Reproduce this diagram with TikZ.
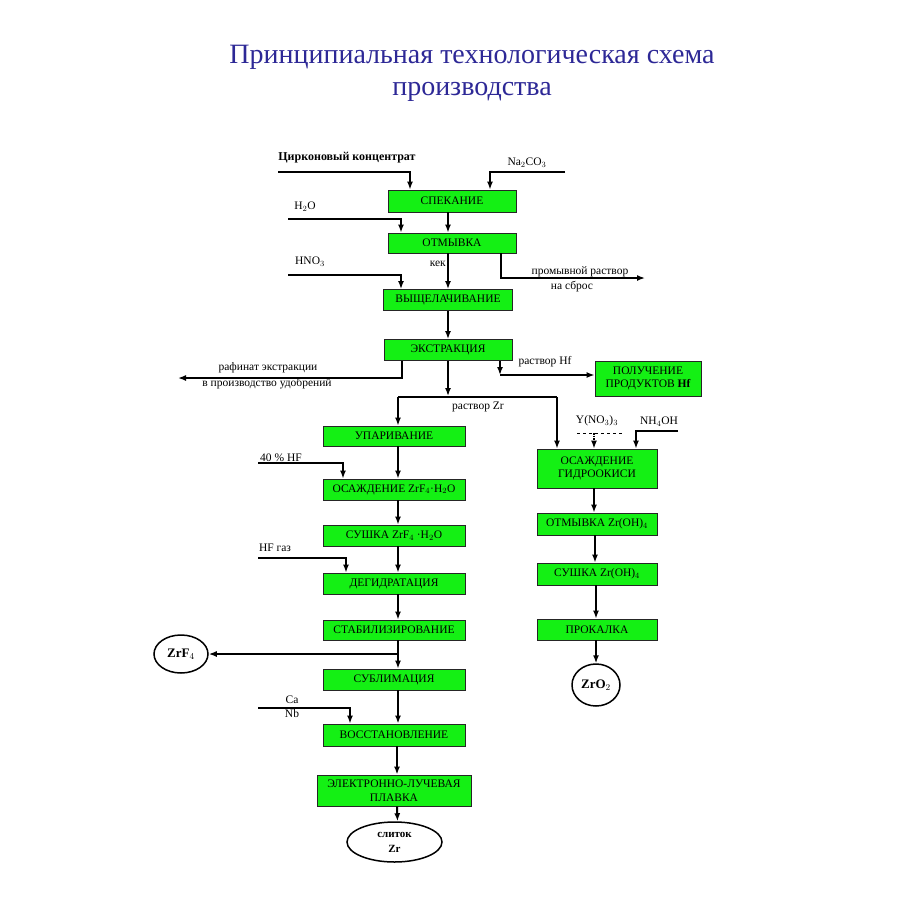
\documentclass[tikz,border=0pt]{standalone}
\usepackage{fontspec}
\setmainfont{Liberation Serif}
\usetikzlibrary{arrows.meta,calc,shapes.geometric}
\definecolor{boxgreen}{RGB}{20,240,20}
\definecolor{titleblue}{RGB}{45,40,150}
\begin{document}
\begin{tikzpicture}[x=1pt,y=-1pt,
  box/.style={draw=black!85, fill=boxgreen, line width=0.9pt, inner sep=0pt, align=center, font=\fontsize{11.5}{13.5}\selectfont},
  oval/.style={ellipse, draw=black, line width=1.5pt, fill=white, inner sep=0pt, align=center, font=\fontsize{13}{15}\selectfont\bfseries},
  arr/.style={-{Latex[length=8pt,width=6pt]}, line width=1.5pt},
  ln/.style={line width=1.5pt},
  lbl/.style={inner sep=0pt, font=\fontsize{11.5}{13}\selectfont}]
\useasboundingbox (0,0) rectangle (900,900);

% title
\node[font=\fontsize{28}{32}\selectfont, text=titleblue, align=center] (title) at (472,73) {Принципиальная технологическая схема\\производства};

% boxes main column
\node[box, minimum width=128pt, minimum height=22pt] (spek) at (452,201) {СПЕКАНИЕ};
\node[box, minimum width=128pt, minimum height=20pt] (otm) at (452,243) {ОТМЫВКА};
\node[box, minimum width=129pt, minimum height=21pt] (vysh) at (448,300) {ВЫЩЕЛАЧИВАНИЕ};
\node[box, minimum width=128pt, minimum height=21pt] (extr) at (448,350) {ЭКСТРАКЦИЯ};
\node[box, minimum width=106pt, minimum height=35pt] (poluch) at (648,378.5) {ПОЛУЧЕНИЕ\\ПРОДУКТОВ \textbf{Hf}};
\node[box, minimum width=142pt, minimum height=20pt] (upar) at (394,436) {УПАРИВАНИЕ};
\node[box, minimum width=142pt, minimum height=21pt] (oszr) at (394,489.5) {ОСАЖДЕНИЕ ZrF$_4$·H$_2$O};
\node[box, minimum width=142pt, minimum height=21pt] (sushzr) at (394,535.5) {СУШКА ZrF$_4$ ·H$_2$O};
\node[box, minimum width=142pt, minimum height=21pt] (degid) at (394,583.5) {ДЕГИДРАТАЦИЯ};
\node[box, minimum width=142pt, minimum height=20pt] (stab) at (394,630) {СТАБИЛИЗИРОВАНИЕ};
\node[box, minimum width=142pt, minimum height=21pt] (subl) at (394,679.5) {СУБЛИМАЦИЯ};
\node[box, minimum width=142pt, minimum height=22pt] (vosst) at (394,735) {ВОССТАНОВЛЕНИЕ};
\node[box, minimum width=154pt, minimum height=31pt] (elec) at (394,790.5) {ЭЛЕКТРОННО-ЛУЧЕВАЯ\\ПЛАВКА};
\node[oval, minimum width=95pt, minimum height=40pt, font=\fontsize{11}{15}\selectfont\bfseries] (slitok) at (394.5,842) {слиток\\Zr};
\node[oval, minimum width=54pt, minimum height=38pt] (zrf4) at (181,654) {ZrF$_4$};

% right column
\node[box, minimum width=120pt, minimum height=39pt] (osgid) at (597,468.5) {ОСАЖДЕНИЕ\\ГИДРООКИСИ};
\node[box, minimum width=120pt, minimum height=22pt] (otmoh) at (597,524) {ОТМЫВКА Zr(OH)$_4$};
\node[box, minimum width=120pt, minimum height=22pt] (sushoh) at (597,574) {СУШКА Zr(OH)$_4$};
\node[box, minimum width=120pt, minimum height=21pt] (prok) at (597,629.5) {ПРОКАЛКА};
\node[oval, minimum width=48pt, minimum height=42pt] (zro2) at (596,685) {ZrO$_2$};

% labels
\node[lbl, font=\fontsize{12}{14}\selectfont\bfseries] (zclbl) at (347,158) {Цирконовый концентрат};
\node[lbl] (na) at (527,163) {Na$_2$CO$_3$};
\node[lbl] (h2o) at (305,207) {H$_2$O};
\node[lbl] (hno3) at (310,262) {HNO$_3$};
\node[lbl, anchor=east] (kek) at (446,264) {кек};
\node[lbl] (prom1) at (580,272) {промывной раствор};
\node[lbl] (prom2) at (572,287) {на сброс};
\node[lbl] (raf1) at (268,368) {рафинат экстракции};
\node[lbl] (raf2) at (267,384) {в производство удобрений};
\node[lbl] (rhf) at (545,362) {раствор Hf};
\node[lbl] (rzr) at (478,407) {раствор Zr};
\node[lbl] (hf40) at (281,458) {40 \% HF};
\node[lbl] (hfgas) at (275,548) {HF газ};
\node[lbl] (ca) at (292,700) {Ca};
\node[lbl] (nb) at (292,714) {Nb};
\node[lbl] (yno) at (597,421) {Y(NO$_3$)$_3$};
\node[lbl] (nh4) at (659,422) {NH$_4$OH};

% free ends
\coordinate (zcS) at (278,172);
\coordinate (naS) at (565,172);
\coordinate (h2oS) at (288,219);
\coordinate (hnoS) at (288,275);
\coordinate (sbros) at (645,278);
\coordinate (rafE) at (178,378);
\coordinate (hfc) at (500,375);
\coordinate (zrmid) at (448,396);
\coordinate (zrL) at (398,397);
\coordinate (zrR) at (557,397);
\coordinate (hf40S) at (258,463);
\coordinate (hfgS) at (258,558);
\coordinate (zrf4c) at (398,654);
\coordinate (canbS) at (258,708);
\coordinate (ynoL) at (577,433);
\coordinate (ynoR) at (622,433);
\coordinate (ynoM) at (594,433);
\coordinate (nh4S) at (678,431);

% connectors top
\draw[arr] (zcS) -| ([xshift=-42pt]spek.north);
\draw[arr] (naS) -| ([xshift=38pt]spek.north);
\draw[arr] ([xshift=-4pt]spek.south) -- ([xshift=-4pt]otm.north);
\draw[arr] (h2oS) -| ([xshift=-51pt]otm.north);
\draw[arr] ([xshift=-4pt]otm.south) -- (vysh.north);
\draw[arr] (hnoS) -| ([xshift=-47pt]vysh.north);
\draw[arr] ([xshift=49pt]otm.south) |- (sbros);
\draw[arr] (vysh.south) -- (extr.north);
\draw[arr] ([xshift=-46pt]extr.south) |- (rafE);
\draw[arr] ([xshift=52pt]extr.south) -- (hfc);
\draw[arr] (hfc) -- (hfc -| poluch.west);
\draw[arr] (extr.south) -- (zrmid);
\draw[ln] (zrL) -- (zrR);
\draw[arr] (zrL) -- ([xshift=4pt]upar.north);
\draw[arr] (zrR) -- ([xshift=-40pt]osgid.north);

% left column
\draw[arr] ([xshift=4pt]upar.south) -- ([xshift=4pt]oszr.north);
\draw[arr] (hf40S) -| ([xshift=-51pt]oszr.north);
\draw[arr] ([xshift=4pt]oszr.south) -- ([xshift=4pt]sushzr.north);
\draw[arr] ([xshift=4pt]sushzr.south) -- ([xshift=4pt]degid.north);
\draw[arr] (hfgS) -| ([xshift=-48pt]degid.north);
\draw[arr] ([xshift=4pt]degid.south) -- ([xshift=4pt]stab.north);
\draw[arr] ([xshift=4pt]stab.south) -- ([xshift=4pt]subl.north);
\draw[arr] (zrf4c) -- (zrf4.east);
\draw[arr, line width=2pt] ([xshift=4pt]subl.south) -- ([xshift=4pt]vosst.north);
\draw[arr] (canbS) -| ([xshift=-44pt]vosst.north);
\draw[arr, line width=2pt] ([xshift=3pt]vosst.south) -- ([xshift=3pt]elec.north);
\draw[arr, line width=2pt] ([xshift=3pt]elec.south) -- ([xshift=3pt]slitok.north);

% right column connectors
\draw[line width=0.9pt, dashed] (ynoL) -- (ynoR);
\draw[-{Latex[length=8pt,width=6pt]}, line width=1.5pt, densely dotted] (ynoM) -- ([xshift=-3pt]osgid.north);
\draw[arr] (nh4S) -| ([xshift=39pt]osgid.north);
\draw[arr] ([xshift=-3pt]osgid.south) -- ([xshift=-3pt]otmoh.north);
\draw[arr] ([xshift=-2pt]otmoh.south) -- ([xshift=-2pt]sushoh.north);
\draw[arr] ([xshift=-1pt]sushoh.south) -- ([xshift=-1pt]prok.north);
\draw[arr] ([xshift=-1pt]prok.south) -- (zro2.north);
\end{tikzpicture}
\end{document}
